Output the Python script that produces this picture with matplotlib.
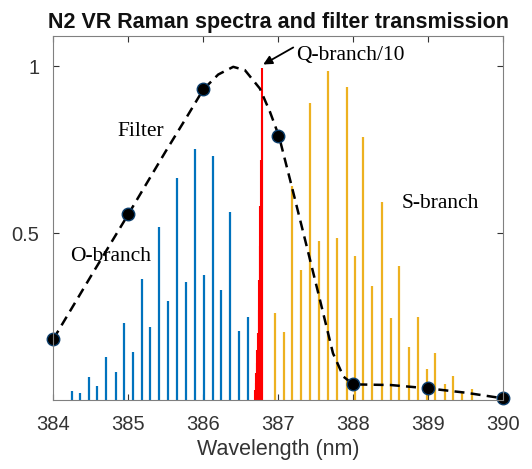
import numpy as np
import matplotlib
matplotlib.use('Agg')
import matplotlib.pyplot as plt

# O-branch lines (blue)
o_wl = [384.245, 384.356, 384.476, 384.587, 384.703, 384.832, 384.947, 385.063,
        385.179, 385.289, 385.413, 385.533, 385.649, 385.765, 385.893, 386.009,
        386.125, 386.240, 386.356, 386.480, 386.600]
o_int = [0.028, 0.020, 0.068, 0.042, 0.130, 0.084, 0.230, 0.145,
         0.363, 0.219, 0.517, 0.296, 0.664, 0.355, 0.751, 0.374,
         0.731, 0.330, 0.562, 0.208, 0.249]

# Q-branch lines /10 (red)
q_wl = [386.690, 386.698, 386.706, 386.714, 386.722, 386.730, 386.738, 386.746,
        386.754, 386.762, 386.770, 386.778, 386.786]
q_int = [0.03, 0.05, 0.08, 0.11, 0.15, 0.20, 0.27, 0.36, 0.46, 0.58, 0.72, 0.84, 0.995]

# S-branch lines (orange)
s_wl = [386.956, 387.072, 387.187, 387.303, 387.429, 387.545, 387.667, 387.779,
        387.912, 388.023, 388.133, 388.253, 388.387, 388.499, 388.613, 388.743,
        388.859, 388.979, 389.093, 389.223, 389.333, 389.445, 389.579]
s_int = [0.261, 0.203, 0.641, 0.389, 0.889, 0.476, 0.985, 0.484,
         0.938, 0.432, 0.787, 0.341, 0.592, 0.246, 0.402, 0.159,
         0.249, 0.092, 0.140, 0.047, 0.072, 0.020, 0.032]

# filter transmission: measured points and fitted curve
filt_wl = [384, 385, 386, 387, 388, 389, 390]
filt_t = [0.182, 0.556, 0.931, 0.790, 0.047, 0.035, 0.005]

curve_wl = [384.0, 384.5, 385.0, 385.5, 385.8, 386.0, 386.2, 386.4, 386.556, 386.755,
            386.89, 387.01, 387.18, 387.38, 387.556, 387.73, 387.87, 388.0, 388.5,
            389.0, 389.5, 390.0]
curve_t = [0.182, 0.37, 0.556, 0.745, 0.855, 0.93, 0.975, 0.998, 0.988, 0.933,
           0.863, 0.79, 0.64, 0.46, 0.30, 0.14, 0.07, 0.047, 0.045,
           0.035, 0.022, 0.005]

axcol = '#333333'
plt.rcParams['font.family'] = ['Liberation Sans', 'DejaVu Sans']

fig = plt.figure(figsize=(5.32, 4.69), dpi=100)
ax = fig.add_axes([0.100, 0.147, 0.846, 0.776])

ax.vlines(o_wl, 0, o_int, color='#0072BD', lw=1.6)
ax.vlines(s_wl, 0, s_int, color='#EDB120', lw=1.6)
ax.vlines(q_wl, 0, q_int, color='#FF0000', lw=1.5)

ax.plot(curve_wl, curve_t, color='black', lw=1.8, ls=(0, (4, 2.5)))
ax.plot(filt_wl, filt_t, 'o', color='black', mec='#0b3d6b', mew=1, ms=9, clip_on=False)

ax.set_xlim(384, 390)
ax.set_ylim(0, 1.09)
ax.set_xticks(range(384, 391))
ax.set_yticks([0.5, 1])
ax.set_yticklabels(['0.5', '1'])
ax.tick_params(direction='in', top=True, right=True, colors=axcol, labelsize=14.5,
               length=4, width=0.8)
ax.tick_params(axis='x', pad=11)
ax.tick_params(axis='y', pad=10)
for s in ax.spines.values():
    s.set_color('#808080')
    s.set_linewidth(0.8)

ax.set_xlabel('Wavelength (nm)', fontsize=15.5, color=axcol, labelpad=3)
ax.set_title('N2 VR Raman spectra and filter transmission', fontsize=15.5,
             fontweight='bold', color='#111111', pad=6)

serif = ['Liberation Serif', 'DejaVu Serif']
ax.annotate('', xy=(386.80, 1.005), xytext=(387.20, 1.056),
            arrowprops=dict(arrowstyle='-|>', color='black', lw=1.3,
                            shrinkA=0, shrinkB=0, mutation_scale=13),
            annotation_clip=False)
ax.text(387.24, 1.033, 'Q-branch/10', fontsize=15.5, family=serif, ha='left', va='center')
ax.text(385.17, 0.805, 'Filter', fontsize=15.5, family=serif, ha='center', va='center')
ax.text(384.77, 0.43, 'O-branch', fontsize=15.5, family=serif, ha='center', va='center')
ax.text(389.16, 0.59, 'S-branch', fontsize=15.5, family=serif, ha='center', va='center')

fig.savefig('out.png', dpi=100)
